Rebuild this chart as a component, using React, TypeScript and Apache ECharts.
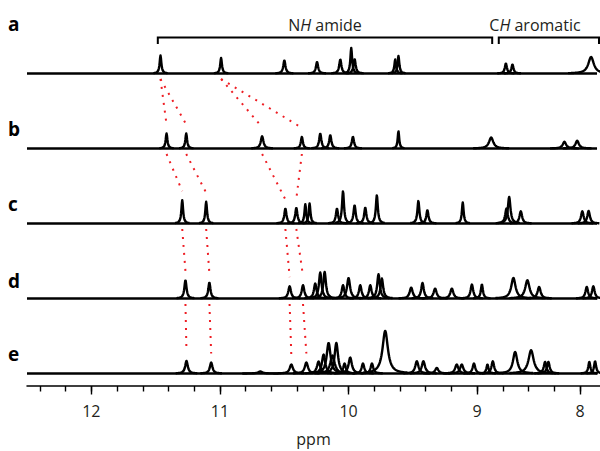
import React, { useEffect, useRef } from "react";
import * as echarts from "echarts";

// ---- data ----
const spectrumLabels = ["a", "b", "c", "d", "e"];
// vertical stacking offset of each trace (same units as peak heights)
const stackOffsets = [300, 225, 150, 75, 0];

// peaks: [ppm, height, half-width at half-height (ppm)]
const peaksA: number[][] = [
  [11.462, 18, 0.008], [10.991, 15.5, 0.008], [10.499, 13, 0.01], [10.245, 11.5, 0.01],
  [10.064, 14, 0.01], [9.979, 25.5, 0.008], [9.953, 14.5, 0.01], [9.637, 14, 0.008],
  [9.612, 17.5, 0.008], [8.721, 10, 0.012], [8.657, 9, 0.012], [7.893, 16.5, 0.032],
];
const peaksB: number[][] = [
  [11.415, 15, 0.008], [11.262, 15, 0.008], [10.672, 12.3, 0.012], [10.363, 11.7, 0.009],
  [10.22, 15, 0.01], [10.142, 13.3, 0.01], [9.966, 11.7, 0.01], [9.612, 17.3, 0.007],
  [8.864, 11, 0.025], [8.152, 6.7, 0.02], [8.028, 7.7, 0.02],
];
const peaksC: number[][] = [
  [11.293, 23.3, 0.008], [11.107, 21.7, 0.008], [10.491, 15, 0.01], [10.406, 15.7, 0.01],
  [10.336, 19.3, 0.008], [10.303, 20, 0.008], [10.09, 15, 0.01], [10.043, 32.3, 0.009],
  [9.953, 18.3, 0.01], [9.87, 16, 0.01], [9.78, 28.3, 0.009], [9.457, 22.6, 0.009],
  [9.387, 13.3, 0.01], [9.112, 21, 0.008], [8.715, 15, 0.015], [8.689, 26.6, 0.015],
  [8.576, 12.3, 0.015], [7.978, 12.3, 0.015], [7.917, 12.6, 0.015],
];
const peaksD: number[][] = [
  [11.268, 18.3, 0.01], [11.082, 16, 0.01], [10.458, 12.3, 0.012], [10.354, 13.3, 0.012],
  [10.259, 15, 0.012], [10.22, 26, 0.012], [10.186, 26.6, 0.012], [10.043, 13.3, 0.012],
  [10.0, 20.6, 0.014], [9.909, 13.3, 0.012], [9.831, 13.3, 0.012], [9.767, 24.3, 0.012],
  [9.741, 20, 0.012], [9.513, 11, 0.014], [9.425, 15.6, 0.012], [9.327, 10, 0.014],
  [9.197, 10, 0.014], [9.041, 14, 0.012], [8.954, 14, 0.012], [8.648, 20.6, 0.025],
  [8.512, 18.3, 0.025], [8.398, 11.6, 0.018], [7.935, 11.6, 0.015], [7.871, 12.3, 0.015],
];
const peaksE: number[][] = [
  [11.26, 12.6, 0.012], [11.068, 11, 0.012], [10.686, 2, 0.02], [10.445, 9, 0.015],
  [10.328, 11, 0.015], [10.233, 12, 0.015], [10.194, 19, 0.015], [10.155, 30.6, 0.018],
  [10.125, 18, 0.02], [10.095, 30.6, 0.016], [10.031, 10, 0.012], [9.987, 16, 0.015],
  [9.888, 10, 0.012], [9.818, 10, 0.012], [9.715, 42.6, 0.025], [9.469, 12.3, 0.015],
  [9.418, 12.3, 0.015], [9.314, 5.6, 0.015], [9.159, 9, 0.015], [9.12, 9, 0.015],
  [9.025, 10, 0.012], [8.9, 9, 0.012], [8.848, 12.3, 0.015], [8.631, 21.6, 0.025],
  [8.476, 23.3, 0.03], [8.34, 11.6, 0.015], [8.308, 11.6, 0.015], [7.91, 11.6, 0.012],
  [7.854, 12.3, 0.012],
];
const peakSets = [peaksA, peaksB, peaksC, peaksD, peaksE];

// red dotted correlation lines: [upper trace index, upper ppm, lower ppm]
const links: number[][] = [
  [0, 11.462, 11.415], [0, 11.462, 11.262], [0, 10.991, 10.672], [0, 10.991, 10.363],
  [1, 11.415, 11.293], [1, 11.262, 11.107], [1, 10.672, 10.491], [1, 10.363, 10.406],
  [2, 11.293, 11.268], [2, 11.107, 11.082], [2, 10.491, 10.458], [2, 10.406, 10.354],
  [3, 11.268, 11.26], [3, 11.082, 11.068], [3, 10.458, 10.445], [3, 10.354, 10.328],
];

const tickPpm = [12, 11, 10, 9, 8];
const axisName = "ppm";
const spectrumRange = [12.5, 7.835];
const amideRange = [11.483, 8.854];
const aromaticRange = [8.79, 7.816];

// ---- axis mapping (the 9 → 8 ppm span is drawn compressed in the figure) ----
const BREAK = 9;
const SQUEEZE = 0.8;
const disp = (p: number) => (p >= BREAK ? p : BREAK - (BREAK - p) * SQUEEZE);
const undisp = (d: number) => (d >= BREAK ? d : BREAK - (BREAK - d) / SQUEEZE);

const X_MIN = 8.045;
const X_MAX = 12.5;
const BRACKET_LEVEL = 336;
const LETTER_Y = [24, 129, 204, 280.5, 354];
const TEXT_COLOR = "#231f20";
const FONT = "'Open Sans', 'Noto Sans', sans-serif";

const majorDisp = tickPpm.map(disp);
const minorDisp: number[] = [];
for (let d = 12.4; d >= 8.19; d -= 0.2) minorDisp.push(Math.round(d * 100) / 100);

function peakHeight(set: number[][], ppm: number) {
  let best = set[0];
  for (const p of set) if (Math.abs(p[0] - ppm) < Math.abs(best[0] - ppm)) best = p;
  return best[1];
}

function buildOption() {
  const series: any[] = [];
  peakSets.forEach((peaks, i) => {
    const off = stackOffsets[i];
    series.push({
      type: "line",
      name: spectrumLabels[i],
      data: [
        [disp(spectrumRange[0]), off],
        [disp(spectrumRange[1]), off],
      ],
      symbol: "none",
      silent: true,
      lineStyle: { color: "#000", width: 2.6 },
      z: 3,
    });
    series.push({
      type: "custom",
      name: spectrumLabels[i] + "-peaks",
      silent: true,
      z: 4,
      data: peaks.map((p) => [
        disp(p[0]),
        off,
        p[1],
        Math.abs(disp(p[0]) - disp(p[0] - p[2])),
      ]),
      renderItem: (_params: any, api: any) => {
        const x = api.value(0);
        const o = api.value(1);
        const h = api.value(2);
        const dw = api.value(3);
        const base = api.coord([x, o]);
        const top = api.coord([x, o + h]);
        const edge = api.coord([x - dw, o]);
        const g = Math.max(Math.abs(edge[0] - base[0]), 0.6);
        const hp = base[1] - top[1];
        const R = Math.max(g * 7, 5);
        const pts: number[][] = [];
        for (let dx = -R; dx <= R + 1e-6; dx += 0.4) {
          pts.push([base[0] + dx, base[1] - hp / (1 + (dx / g) * (dx / g))]);
        }
        return {
          type: "polyline",
          shape: { points: pts },
          style: { stroke: "#000", lineWidth: 2.4, fill: null, lineJoin: "round" },
        };
      },
    });
  });

  series.push({
    type: "lines",
    coordinateSystem: "cartesian2d",
    silent: true,
    z: 2,
    data: links.map((l) => {
      const up = l[0];
      const low = up + 1;
      return {
        coords: [
          [disp(l[1]), stackOffsets[up] - 5.5],
          [disp(l[2]), stackOffsets[low] + peakHeight(peakSets[low], l[2]) + 9],
        ],
      };
    }),
    lineStyle: { color: "#ee1d23", width: 2, type: [2, 6], opacity: 1, curveness: 0 },
  });

  series.push({
    type: "custom",
    name: "brackets",
    silent: true,
    z: 5,
    data: [
      [disp(amideRange[0]), disp(amideRange[1]), BRACKET_LEVEL],
      [disp(aromaticRange[0]), disp(aromaticRange[1]), BRACKET_LEVEL],
    ],
    renderItem: (_p: any, api: any) => {
      const l = api.coord([api.value(0), api.value(2)]);
      const r = api.coord([api.value(1), api.value(2)]);
      const t = 6.5;
      return {
        type: "polyline",
        shape: {
          points: [
            [l[0], l[1] + t],
            [l[0], l[1]],
            [r[0], r[1]],
            [r[0], r[1] + t],
          ],
        },
        style: { stroke: "#000", lineWidth: 2, fill: null },
      };
    },
  });

  const richStyle = {
    n: { fontSize: 16, fontFamily: FONT, fill: TEXT_COLOR, color: TEXT_COLOR },
    i: { fontSize: 16, fontFamily: FONT, fontStyle: "italic", fill: TEXT_COLOR, color: TEXT_COLOR },
  };

  return {
    animation: false,
    backgroundColor: "#fff",
    grid: { left: 27, right: 0, top: 0, bottom: 65, containLabel: false, outerBoundsMode: "none" },
    xAxis: [
      {
        type: "value",
        min: X_MIN,
        max: X_MAX,
        inverse: true,
        position: "bottom",
        axisLine: { show: true, onZero: false, lineStyle: { color: "#000", width: 1.5 } },
        axisTick: { show: true, customValues: majorDisp, length: 8.5, lineStyle: { color: "#000", width: 1.4 } },
        axisLabel: {
          show: true,
          customValues: majorDisp,
          formatter: (v: number) => String(Math.round(undisp(v))),
          margin: 17,
          color: TEXT_COLOR,
          fontSize: 16,
          fontFamily: FONT,
        },
        splitLine: { show: false },
        name: axisName,
        nameLocation: "middle",
        nameGap: 45,
        nameTextStyle: { color: TEXT_COLOR, fontSize: 16, lineHeight: 16, fontFamily: FONT },
      },
      {
        type: "value",
        min: X_MIN,
        max: X_MAX,
        inverse: true,
        position: "bottom",
        axisLine: { show: false, onZero: false },
        axisTick: { show: true, customValues: minorDisp, length: 5.5, lineStyle: { color: "#000", width: 1.4 } },
        axisLabel: { show: false },
        splitLine: { show: false },
      },
    ],
    yAxis: { type: "value", min: -12.5, max: 373.5, show: false },
    graphic: [
      ...spectrumLabels.map((t, i) => ({
        type: "text",
        style: {
          text: t,
          x: 8,
          y: LETTER_Y[i],
          fontSize: 19,
          fontWeight: "bold",
          fontFamily: FONT,
          fill: "#000",
          verticalAlign: "middle",
        },
      })),
      {
        type: "text",
        style: {
          text: "{n|N}{i|H}{n| amide}",
          x: 325,
          y: 25,
          align: "center",
          verticalAlign: "middle",
          fontSize: 16,
          fontFamily: FONT,
          fill: TEXT_COLOR,
          rich: richStyle,
        },
      },
      {
        type: "text",
        style: {
          text: "{n|C}{i|H}{n| aromatic}",
          x: 535,
          y: 25,
          align: "center",
          verticalAlign: "middle",
          fontSize: 16,
          fontFamily: FONT,
          fill: TEXT_COLOR,
          rich: richStyle,
        },
      },
    ],
    series,
  };
}

export default function App() {
  const ref = useRef<HTMLDivElement>(null);
  useEffect(() => {
    if (!ref.current) return;
    const chart = echarts.init(ref.current, undefined, { renderer: "svg" });
    chart.setOption(buildOption() as any);
    return () => chart.dispose();
  }, []);
  return (
    <div
      ref={ref}
      style={{ position: "absolute", left: 0, top: 0, width: 600, height: 451, background: "#fff" }}
    />
  );
}
